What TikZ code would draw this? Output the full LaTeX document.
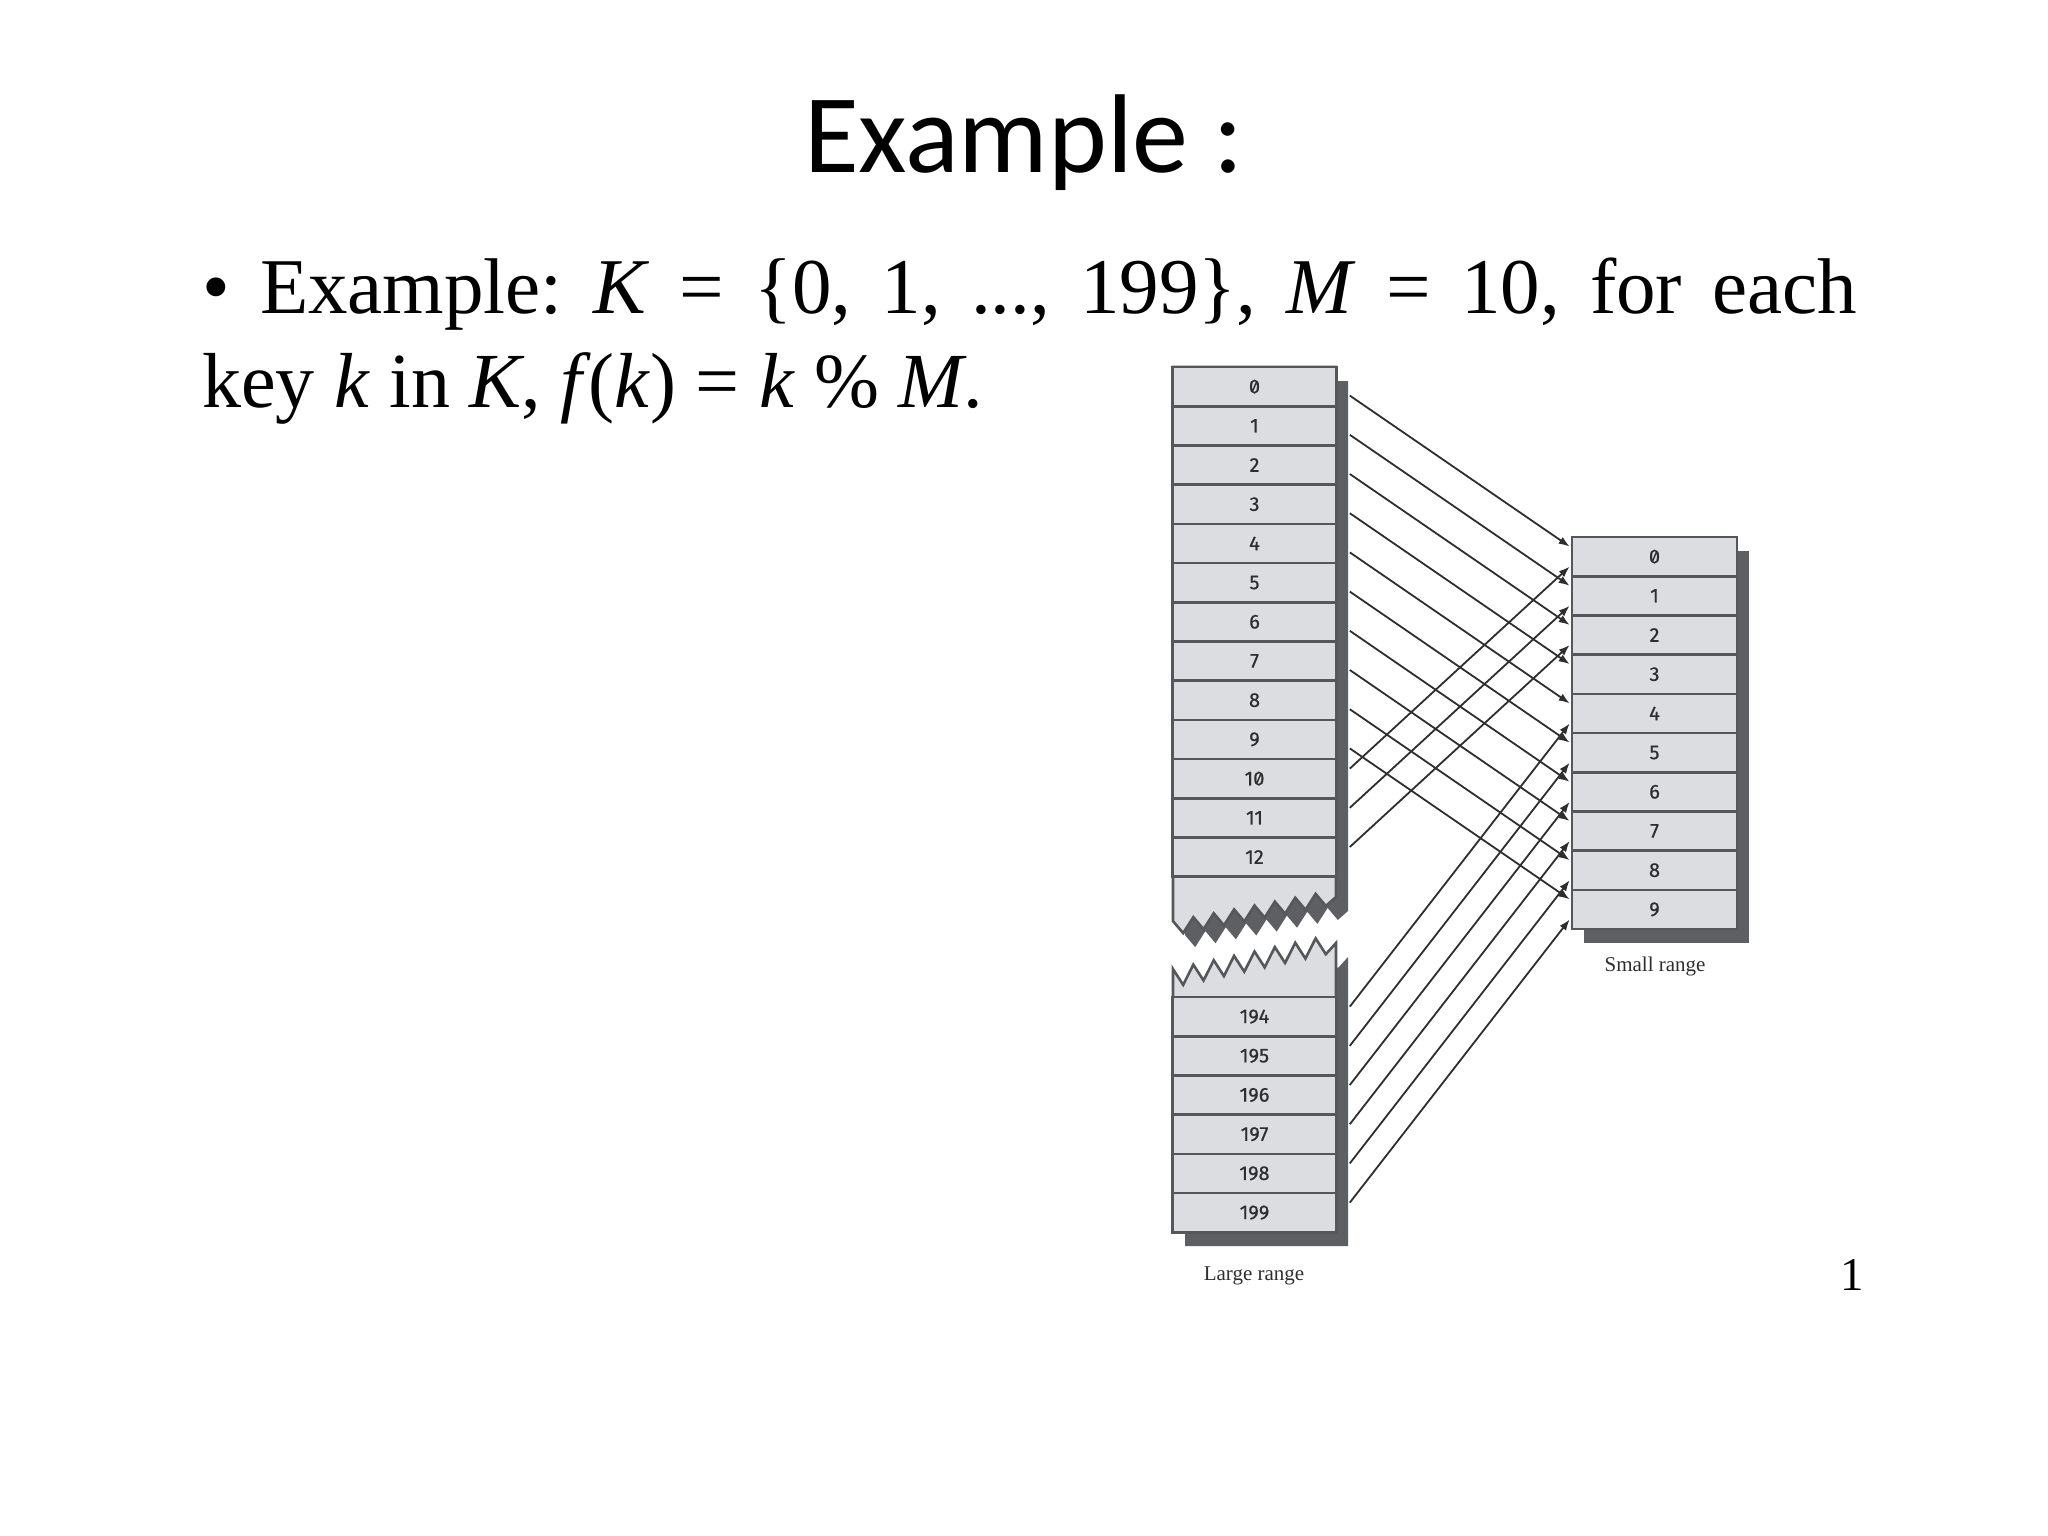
\documentclass[tikz,border=0pt]{standalone}
\usepackage{fontspec}
\setmainfont{Liberation Serif}
\newfontfamily\titlefont{Carlito}
\newfontfamily\cellfont[Numbers=SlashedZero,FakeBold=0.6]{Fira Sans}
\usetikzlibrary{arrows.meta,calc}

\definecolor{cellgray}{HTML}{DCDDE0}
\definecolor{edgegray}{HTML}{55575B}
\definecolor{shadowgray}{HTML}{5E5F62}
\definecolor{inkgray}{HTML}{2E2E2E}

\begin{document}
\frenchspacing
\begin{tikzpicture}[x=1pt,y=-1pt,
  cell/.style={draw=edgegray,fill=cellgray,line width=2.6pt,minimum width=164pt,
    minimum height=39.2pt,inner sep=0pt,text=inkgray,
    font=\cellfont\fontsize{20}{20}\selectfont},
  piece/.style={draw=edgegray,fill=cellgray,line width=2.6pt,line join=miter},
  shadow/.style={fill=shadowgray},
  hasharrow/.style={draw=inkgray,line width=1.8pt,-{Latex[length=11pt,width=8pt]}},
  caption/.style={text=inkgray,font=\fontsize{21}{21}\selectfont}
]
  \fill[white] (0,0) rectangle (2048,1536);
  \useasboundingbox (0,0) rectangle (2048,1536);

  % title and text
  \node[anchor=base,font=\titlefont\fontsize{112}{112}\selectfont] (title) at (1024,172) {Example :};
  \node[anchor=base west,inner sep=0pt,font=\fontsize{79}{94}\selectfont] (line1) at (202,313)
    {\makebox[1655pt][s]{\textbullet\ Example: \textit{K} = \{0, 1, ..., 199\}, \textit{M} = 10, for each}};
  \node[anchor=base west,inner sep=0pt,font=\fontsize{78}{94}\selectfont] (line2) at (202,407)
    {key \textit{k} in \textit{K}, \textit{f}\kern-3pt(\textit{k}) = \textit{k} \% \textit{M}.};

  % large range, upper piece
  \foreach \s/\st in {{(12,14)}/shadow,{(0,0)}/piece}
    \path[\st,shift={\s}] (1173,367) -- (1336,367) -- (1336,897)
      \foreach \i in {1,...,16}{ -- ({1336-\i*10.19},{897+\i*1.94+mod(\i,2)*14-7}) } -- cycle;
  \foreach \i in {0,...,12}
    \node[cell] (L\i) at (1254.5,{386.6+39.2*\i}) {\i};

  % large range, lower piece
  \foreach \s/\st in {{(12,14)}/shadow,{(0,0)}/piece}
    \path[\st,shift={\s}] (1173,1232) -- (1336,1232) -- (1336,943)
      \foreach \i in {1,...,16}{ -- ({1336-\i*10.19},{943+\i*2.19+mod(\i,2)*18-9}) } -- cycle;
  \foreach \k [count=\j from 0] in {194,...,199}
    \node[cell] (L\k) at (1254.5,{1016.6+39.2*\j}) {\k};
  \node[caption] (large) at (1254,1276) {Large range};

  % small range
  \fill[shadow] (1584,551) rectangle (1749,943);
  \foreach \i in {0,...,9}
    \node[cell,minimum width=165pt] (R\i) at (1654.5,{556.6+39.2*\i}) {\i};
  \node[caption] (small) at (1655,966) {Small range};

  % hashing arrows
  \foreach \k in {0,...,9}
    \draw[hasharrow] ($(L\k.east)+(12,9)$) -- ($(R\k.west)+(-1,-10)$);
  \foreach \k/\r in {10/0,11/1,12/2,194/4,195/5,196/6,197/7,198/8,199/9}
    \draw[hasharrow] ($(L\k.east)+(12,-10)$) -- ($(R\r.west)+(-1,10)$);

  \node[anchor=base,font=\fontsize{47}{47}\selectfont] (pagenum) at (1852,1290) {1};
\end{tikzpicture}
\end{document}
